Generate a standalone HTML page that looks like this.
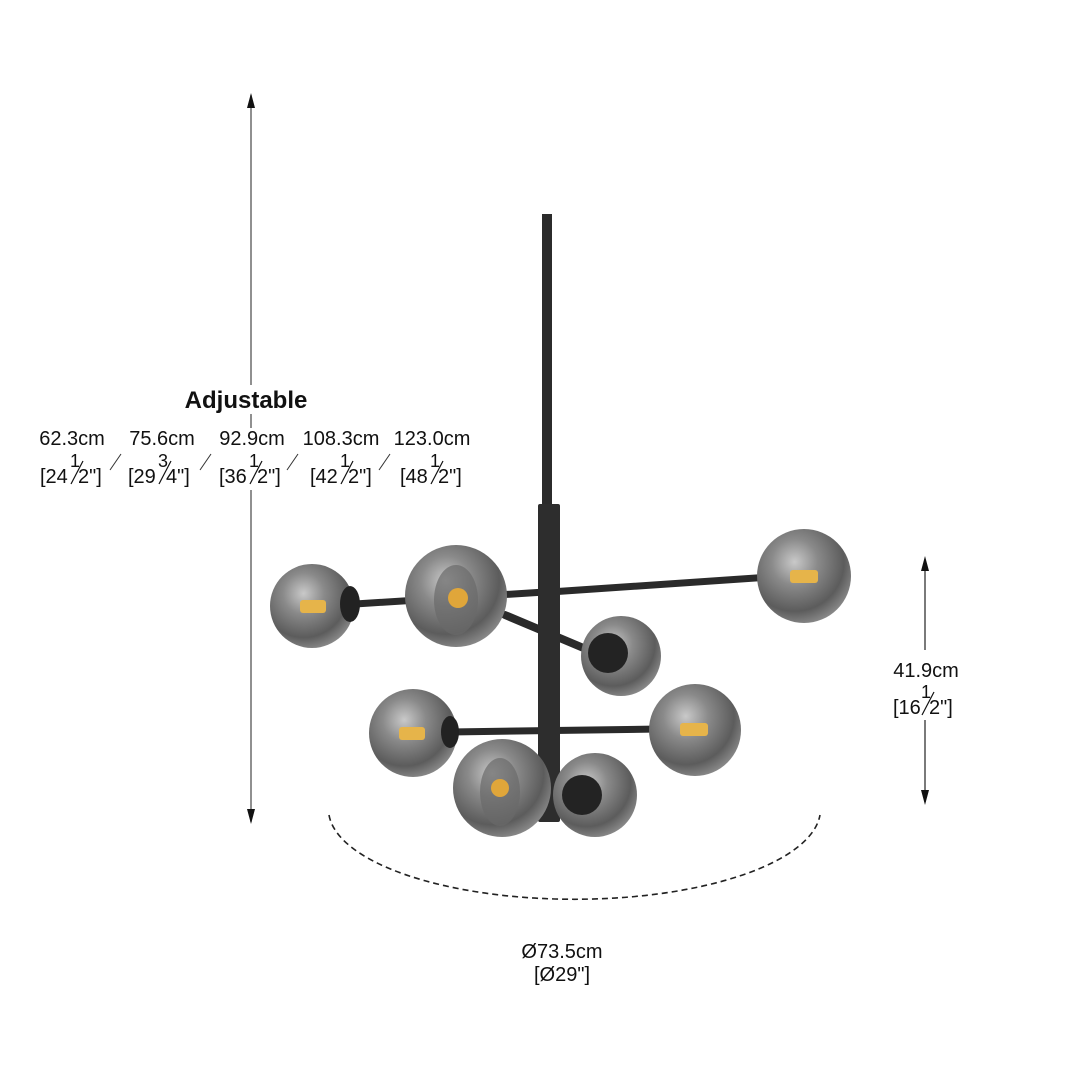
<!DOCTYPE html>
<html><head><meta charset="utf-8"><style>
html,body{margin:0;padding:0;background:#fff}
svg{display:block}
text{font-family:"Liberation Sans",Arial,sans-serif;fill:#111}
</style></head><body>
<svg width="1080" height="1080" viewBox="0 0 1080 1080" xmlns="http://www.w3.org/2000/svg">
<defs>
<radialGradient id="g" cx="40%" cy="35%" r="70%">
<stop offset="0" stop-color="#c9c9c9"/><stop offset="0.35" stop-color="#8a8a8a"/><stop offset="0.75" stop-color="#5c5c5c"/><stop offset="1" stop-color="#8f8f8f"/>
</radialGradient>
</defs>
<rect width="1080" height="1080" fill="#fff"/>

<!-- left dimension -->
<line x1="251" y1="95" x2="251" y2="385" stroke="#555" stroke-width="1.3"/>
<path d="M251 93 L255 108 L247 108 Z" fill="#111"/>
<line x1="251" y1="414" x2="251" y2="428" stroke="#555" stroke-width="1.3"/>
<line x1="251" y1="490" x2="251" y2="822" stroke="#555" stroke-width="1.3"/>
<path d="M251 824 L255 809 L247 809 Z" fill="#111"/>
<text x="246" y="408" font-size="24" font-weight="bold" text-anchor="middle">Adjustable</text>
<g font-size="20">
<text x="72" y="445" text-anchor="middle">62.3cm</text>
<text x="162" y="445" text-anchor="middle">75.6cm</text>
<text x="252" y="445" text-anchor="middle">92.9cm</text>
<text x="341" y="445" text-anchor="middle">108.3cm</text>
<text x="432" y="445" text-anchor="middle">123.0cm</text>

<text x="40" y="483">[24</text><text x="70" y="467" font-size="18">1</text><line x1="71" y1="484" x2="83" y2="461" stroke="#111" stroke-width="1.2"/><text x="78" y="483">2"]</text>
<text x="128" y="483">[29</text><text x="158" y="467" font-size="18">3</text><line x1="159" y1="484" x2="171" y2="461" stroke="#111" stroke-width="1.2"/><text x="166" y="483">4"]</text>
<text x="219" y="483">[36</text><text x="249" y="467" font-size="18">1</text><line x1="250" y1="484" x2="262" y2="461" stroke="#111" stroke-width="1.2"/><text x="257" y="483">2"]</text>
<text x="310" y="483">[42</text><text x="340" y="467" font-size="18">1</text><line x1="341" y1="484" x2="353" y2="461" stroke="#111" stroke-width="1.2"/><text x="348" y="483">2"]</text>
<text x="400" y="483">[48</text><text x="430" y="467" font-size="18">1</text><line x1="431" y1="484" x2="443" y2="461" stroke="#111" stroke-width="1.2"/><text x="438" y="483">2"]</text>
</g>
<g stroke="#333" stroke-width="1">
<line x1="110" y1="470" x2="121" y2="454"/>
<line x1="200" y1="470" x2="211" y2="454"/>
<line x1="287" y1="470" x2="298" y2="454"/>
<line x1="379" y1="470" x2="390" y2="454"/>
</g>

<!-- right dimension -->
<line x1="925" y1="560" x2="925" y2="650" stroke="#333" stroke-width="1.3"/>
<path d="M925 556 L929 571 L921 571 Z" fill="#111"/>
<line x1="925" y1="720" x2="925" y2="802" stroke="#333" stroke-width="1.3"/>
<path d="M925 805 L929 790 L921 790 Z" fill="#111"/>
<g font-size="20">
<text x="926" y="677" text-anchor="middle">41.9cm</text>
<text x="893" y="714">[16</text><text x="921" y="698" font-size="18">1</text><line x1="922" y1="715" x2="934" y2="692" stroke="#111" stroke-width="1.2"/><text x="929" y="714">2"]</text>
</g>

<!-- dashed ellipse -->
<path d="M329 815 A246 90 0 0 0 820 815" fill="none" stroke="#222" stroke-width="1.6" stroke-dasharray="6,4"/>
<text x="562" y="958" font-size="20" text-anchor="middle">Ø73.5cm</text>
<text x="562" y="981" font-size="20" text-anchor="middle">[Ø29"]</text>

<!-- arms -->
<g stroke="#2a2a2a" stroke-linecap="round">
<line x1="355" y1="604" x2="545" y2="592" stroke-width="7"/>
<line x1="550" y1="592" x2="770" y2="577" stroke-width="7"/>
<line x1="505" y1="615" x2="612" y2="660" stroke-width="8"/>
<line x1="450" y1="732" x2="660" y2="729" stroke-width="7"/>
<line x1="545" y1="795" x2="590" y2="795" stroke-width="7"/>
</g>
<!-- rods -->
<rect x="542" y="214" width="10" height="292" fill="#2b2b2b"/>
<rect x="538" y="504" width="22" height="318" rx="2" fill="#2d2d2d"/>

<!-- globes -->
<g>
<circle cx="312" cy="606" r="42" fill="url(#g)"/>
<ellipse cx="350" cy="604" rx="10" ry="18" fill="#222"/>
<rect x="300" y="600" width="26" height="13" rx="3" fill="#e6b44a"/>

<circle cx="456" cy="596" r="51" fill="url(#g)"/>
<ellipse cx="456" cy="600" rx="22" ry="35" fill="#6a6a6a" opacity="0.7"/>
<circle cx="458" cy="598" r="10" fill="#e0a63a"/>

<circle cx="804" cy="576" r="47" fill="url(#g)"/>
<rect x="790" y="570" width="28" height="13" rx="3" fill="#e6b44a"/>

<circle cx="621" cy="656" r="40" fill="url(#g)"/>
<circle cx="608" cy="653" r="20" fill="#232323"/>

<circle cx="413" cy="733" r="44" fill="url(#g)"/>
<ellipse cx="450" cy="732" rx="9" ry="16" fill="#222"/>
<rect x="399" y="727" width="26" height="13" rx="3" fill="#e6b44a"/>

<circle cx="695" cy="730" r="46" fill="url(#g)"/>
<rect x="680" y="723" width="28" height="13" rx="3" fill="#e6b44a"/>

<circle cx="595" cy="795" r="42" fill="url(#g)"/>
<circle cx="582" cy="795" r="20" fill="#232323"/>

<circle cx="502" cy="788" r="49" fill="url(#g)"/>
<ellipse cx="500" cy="792" rx="20" ry="34" fill="#6a6a6a" opacity="0.7"/>
<circle cx="500" cy="788" r="9" fill="#e0a63a"/>
</g>
</svg>
</body></html>
